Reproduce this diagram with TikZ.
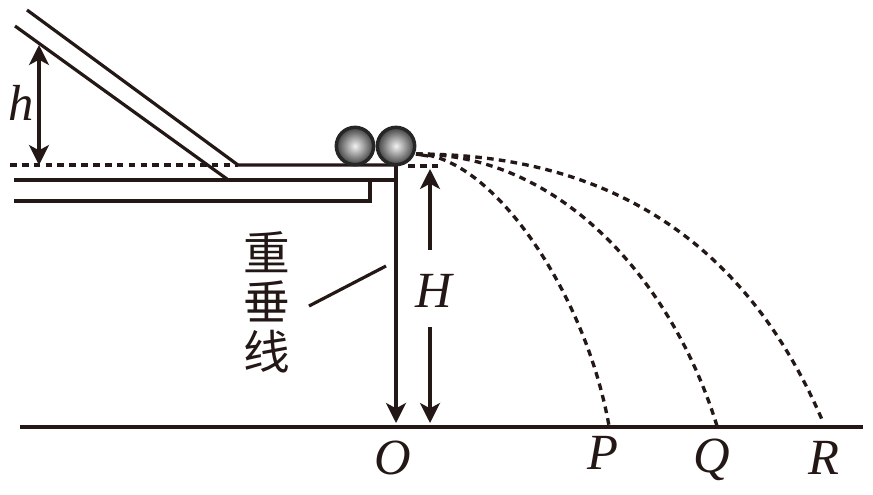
\documentclass[tikz,border=0pt]{standalone}
\usepackage{fontspec}
\setmainfont{Liberation Serif}
\newfontfamily\cjkfont{Noto Sans CJK SC}
\usetikzlibrary{arrows.meta}
\definecolor{ink}{RGB}{35,24,21}
\tikzset{
  line/.style={draw=ink,line width=2.4pt},
  thin line/.style={draw=ink,line width=2.4pt},
  dashline/.style={draw=ink,line width=2.5pt,dash pattern=on 5pt off 3.9pt},
  dim/.style={thin line,{Stealth[length=15pt,width=15pt,inset=4pt]}-{Stealth[length=15pt,width=15pt,inset=4pt]}},
  tipend/.style={thin line,-{Stealth[length=15pt,width=15pt,inset=4pt]}},
  label/.style={text=ink,font=\fontsize{38}{38}\selectfont\itshape,inner sep=0pt},
  ball/.style={circle,draw=black!85,line width=2.6pt,minimum size=28pt,inner sep=0pt,inner color=white!95!black,outer color=black!75},
}
\begin{document}
\begin{tikzpicture}[x=0.75pt,y=-0.75pt]
\useasboundingbox (0,0) rectangle (873,494);
% named points
\coordinate (rampTopA) at (27,10);
\coordinate (rampTopB) at (238,165);
\coordinate (rampLowA) at (15,26);
\coordinate (rampLowB) at (227,179);
\coordinate (tableTopR) at (396,165);
\coordinate (tableMidL) at (14,180);
\coordinate (tableMidR) at (396,180);
\coordinate (tableBotL) at (14,201);
\coordinate (tableBotR) at (370,201);
\coordinate (tableBotT) at (370,180);
\coordinate (groundL) at (20,427);
\coordinate (groundR) at (863,427);
\coordinate (foot) at (396,423);
\coordinate (launch) at (416,154);
\coordinate (launchB) at (428,156);
\coordinate (landP) at (609,426);
\coordinate (landQ) at (717,426);
\coordinate (landR) at (823,422);
\coordinate (hTop) at (39,45);
\coordinate (hBot) at (39,165);
\coordinate (dashL) at (10,165);
\coordinate (dashR) at (238,165);
\coordinate (dash2L) at (408,166);
\coordinate (dash2R) at (438,166);
\coordinate (HTop) at (430,169);
\coordinate (HTopEnd) at (430,250);
\coordinate (HBotStart) at (430,327);
\coordinate (HBot) at (430,423);
\coordinate (leadA) at (309,306);
\coordinate (leadB) at (386,266);
% ramp and table
\draw[line] (rampTopA) -- (rampTopB) -- (tableTopR);
\draw[line] (rampLowA) -- (rampLowB);
\draw[line] (tableMidL) -- (tableMidR);
\draw[line] (tableBotL) -- (tableBotR) -- (tableBotT);
\draw[line] (groundL) -- (groundR);
\draw[tipend] (tableTopR) -- (foot);
% balls
\node[ball] (ballA) at (355,146) {};
\node[ball] (ballB) at (396,146) {};
% dashed levels
\draw[dashline] (dashL) -- (dashR);
\draw[dashline] (dash2L) -- (dash2R);
% trajectories
\draw[line] (launch) -- (launchB);
\draw[dashline] (launch) .. controls (490,154) and (585,290) .. (landP);
\draw[dashline] (launch) .. controls (560,154) and (672,280) .. (landQ);
\draw[dashline] (launch) .. controls (600,154) and (743,234) .. (landR);
% dimensions
\draw[dim] (hTop) -- (hBot);
\draw[tipend] (HTopEnd) -- (HTop);
\draw[tipend] (HBotStart) -- (HBot);
\draw[line] (leadA) -- (leadB);
% labels
\node[label] (lh) at (21,103) {h};
\node[label] (lH) at (434,291) {H};
\node[label] (lO) at (393,458) {O};
\node[label] (lP) at (603,453) {P};
\node[label] (lQ) at (712,460) {Q};
\node[label] (lR) at (824,458) {R};
\node[inner sep=0pt,text=ink,align=center,font=\fontsize{35}{37}\cjkfont] (lv) at (267,302) {重\\垂\\线};
\end{tikzpicture}
\end{document}
